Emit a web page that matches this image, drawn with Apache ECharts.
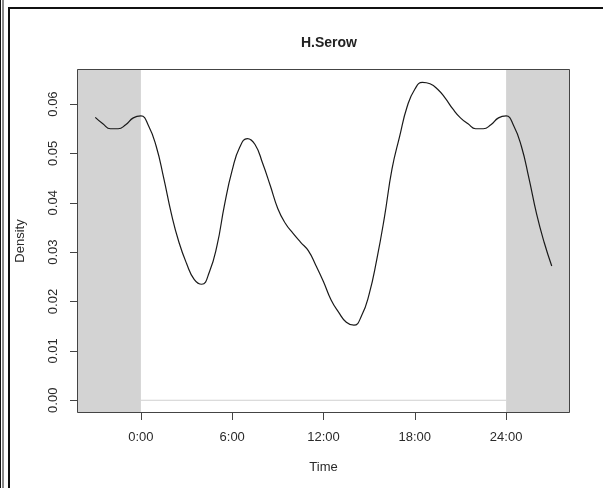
<!DOCTYPE html>
<html>
<head>
<meta charset="utf-8">
<script src="https://cdn.jsdelivr.net/npm/echarts@6.0.0/dist/echarts.min.js"></script>
<style>
  html, body { margin: 0; padding: 0; background: #fff; }
  #chart { width: 603px; height: 488px; }
</style>
</head>
<body>
<div id="chart"></div>
<script>
// Time of day (hours), the curve runs past midnight on both sides
const hours = [
  -3, -2.5, -2, -1.5, -1, -0.5,
  0, 0.5, 1, 1.5, 2, 2.5, 3, 3.5, 4, 4.5, 5, 5.5,
  6, 6.5, 7, 7.5, 8, 8.5, 9, 9.5, 10, 10.5, 11, 11.5,
  12, 12.5, 13, 13.5, 14, 14.5, 15, 15.5, 16, 16.5, 17, 17.5,
  18, 18.5, 19, 19.5, 20, 20.5, 21, 21.5, 22, 22.5, 23, 23.5,
  24, 24.5, 25, 25.5, 26, 26.5, 27
];

// Activity density
const density = [
  0.0573, 0.0560, 0.0550, 0.0550, 0.0558, 0.0572,
  0.0576, 0.0556, 0.0515, 0.0450, 0.0378, 0.0320, 0.0277, 0.0245, 0.0235, 0.0260, 0.0313, 0.0397,
  0.0466, 0.0513, 0.0530, 0.0518, 0.0480, 0.0435, 0.0388, 0.0358, 0.0338, 0.0320, 0.0303, 0.0273,
  0.0240, 0.0203, 0.0178, 0.0158, 0.0152, 0.0171, 0.0215, 0.0285, 0.0370, 0.0468, 0.0534, 0.0595,
  0.0630, 0.0644, 0.0641, 0.0630, 0.0612, 0.0590, 0.0572, 0.0560, 0.0550, 0.0550, 0.0558, 0.0572,
  0.0576, 0.0556, 0.0515, 0.0450, 0.0378, 0.0320, 0.0272
];

const xTicks = [0, 6, 12, 18, 24];
const yTicks = [0, 0.01, 0.02, 0.03, 0.04, 0.05, 0.06];

// shaded extension outside one day
const shaded = [[-4.2, 0], [24, 28.2]];

var chart = echarts.init(document.getElementById('chart'));

const textColor = '#2a2a2a';
const font = 'Liberation Sans, Arial, sans-serif';

var option = {
  animation: false,
  backgroundColor: '#fff',
  title: {
    text: 'H.Serow',
    left: 324,
    top: 31,
    textAlign: 'center',
    textStyle: { fontSize: 14, fontWeight: 'bold', color: '#222', fontFamily: font }
  },
  grid: { left: 77, top: 69, right: 33, bottom: 75, show: false },
  xAxis: {
    type: 'value',
    min: -4.2,
    max: 28.2,
    name: 'Time',
    nameLocation: 'middle',
    nameGap: 48,
    nameTextStyle: { fontSize: 13, color: textColor, fontFamily: font },
    splitLine: { show: false },
    axisLine: { show: false, onZero: false },
    axisTick: { show: true, length: 7, customValues: xTicks, lineStyle: { color: '#444' } },
    axisLabel: {
      customValues: xTicks,
      margin: 18,
      fontSize: 13,
      color: textColor,
      fontFamily: font,
      formatter: (v) => v + ':00'
    }
  },
  yAxis: {
    type: 'value',
    min: -0.00258,
    max: 0.0671,
    name: 'Density',
    nameLocation: 'middle',
    nameGap: 50,
    nameTextStyle: { fontSize: 13, color: textColor, fontFamily: font },
    splitLine: { show: false },
    axisLine: { show: false, onZero: false },
    axisTick: { show: true, length: 7, customValues: yTicks, lineStyle: { color: '#444' } },
    axisLabel: {
      customValues: yTicks,
      rotate: 90,
      margin: 17,
      fontSize: 13,
      color: textColor,
      fontFamily: font,
      formatter: (v) => v.toFixed(2)
    }
  },
  series: [
    {
      name: 'baseline',
      type: 'line',
      data: [[0, 0], [24, 0]],
      symbol: 'none',
      lineStyle: { color: '#d0d0d0', width: 1 },
      z: 1
    },
    {
      name: 'density',
      type: 'line',
      data: hours.map((h, i) => [h, density[i]]),
      smooth: 0.5,
      symbol: 'none',
      lineStyle: { color: '#1a1a1a', width: 1.2 },
      z: 3,
      markArea: {
        silent: true,
        itemStyle: { color: '#d3d3d3' },
        data: shaded.map((s) => [{ xAxis: s[0] }, { xAxis: s[1] }])
      }
    }
  ],
  graphic: [
    // plot box
    { type: 'rect', shape: { x: 77.5, y: 69.5, width: 492, height: 343 }, style: { fill: null, stroke: '#444', lineWidth: 1 }, z: 100 },
    // figure frame
    { type: 'line', shape: { x1: 0.5, y1: 0, x2: 0.5, y2: 488 }, style: { stroke: '#111', lineWidth: 1 } },
    { type: 'line', shape: { x1: 3, y1: 0, x2: 3, y2: 488 }, style: { stroke: '#111', lineWidth: 1 } },
    { type: 'polyline', shape: { points: [[9, 488], [9, 8], [603, 8]] }, style: { stroke: '#111', fill: null, lineWidth: 2 } }
  ]
};

option && chart.setOption(option);
</script>
</body>
</html>
